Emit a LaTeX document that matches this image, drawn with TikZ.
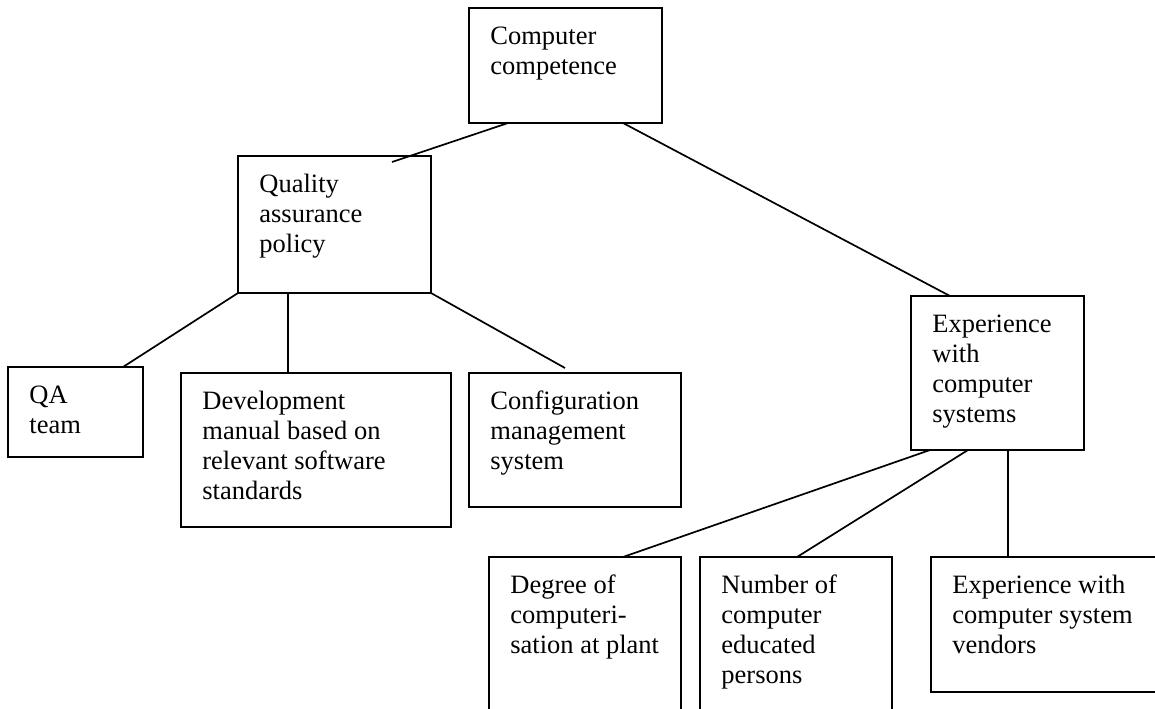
\documentclass[tikz,border=0pt]{standalone}
\usepackage{fontspec}
\setmainfont{Liberation Serif}
\usetikzlibrary{calc}

\tikzset{
  boxshape/.style={draw, line width=1pt, rectangle, inner sep=0pt, outer sep=0pt, anchor=north west},
  boxtext/.style={anchor=north west, inner sep=0pt, align=left, font=\fontsize{13.25}{15}\selectfont},
  link/.style={line width=0.85pt},
}

% a framed box (name, left, top, width, height, text) with its text set at the top left
\newcommand\mkbox[6]{%
  \node[boxshape, minimum width=#4*0.5pt, minimum height=#5*0.5pt] (#1) at (#2,#3) {};
  \node[boxtext] (#1-label) at ($(#1.north west)+(21,12)$) {\rule{0pt}{12pt}#6};
}

\begin{document}
\begin{tikzpicture}[x=0.5pt, y=-0.5pt]
\useasboundingbox (0,0) rectangle (1155,708);
\clip (0,0) rectangle (1155,708);
\fill[white] (0,0) rectangle (1155,708);

\mkbox{top}{469}{8}{193}{115}{Computer\\competence}
\mkbox{qap}{238}{156}{193}{137}{Quality\\assurance\\policy}
\mkbox{qa}{8}{367}{135}{90}{QA\\team}
\mkbox{dev}{181}{373}{270}{154}{Development\\manual based on\\relevant software\\standards}
\mkbox{cfg}{469}{373}{212}{134}{Configuration\\management\\system}
\mkbox{exp}{911}{296}{173}{154}{Experience\\with\\computer\\systems}
\mkbox{deg}{489}{557}{192}{200}{Degree of\\computeri-\\sation at plant}
\mkbox{num}{700}{557}{192}{200}{Number of\\computer\\educated\\persons}
\mkbox{ven}{931}{557}{260}{135}{Experience with\\computer system\\vendors}

% connectors
\draw[link] ($(top.south west)+(39,0)$) -- ($(qap.north west)+(154,6)$);
\draw[link] ($(top.south west)+(154,0)$) -- ($(exp.north west)+(39,0)$);
\draw[link] (qap.south west) -- ($(qa.north west)+(115,0)$);
\draw[link] ($(qap.south west)+(50,0)$) -- ($(dev.north west)+(107,0)$);
\coordinate (cfgend) at ($(cfg.north west)+(96,-5)$);
\draw[link] (qap.south east) -- (cfgend);
\draw[link] ($(exp.south west)+(19,0)$) -- ($(deg.north west)+(134,0)$);
\draw[link] ($(exp.south west)+(57,0)$) -- ($(num.north west)+(97,0)$);
\draw[link] ($(exp.south west)+(97,0)$) -- ($(ven.north west)+(77,0)$);
\end{tikzpicture}
\end{document}
